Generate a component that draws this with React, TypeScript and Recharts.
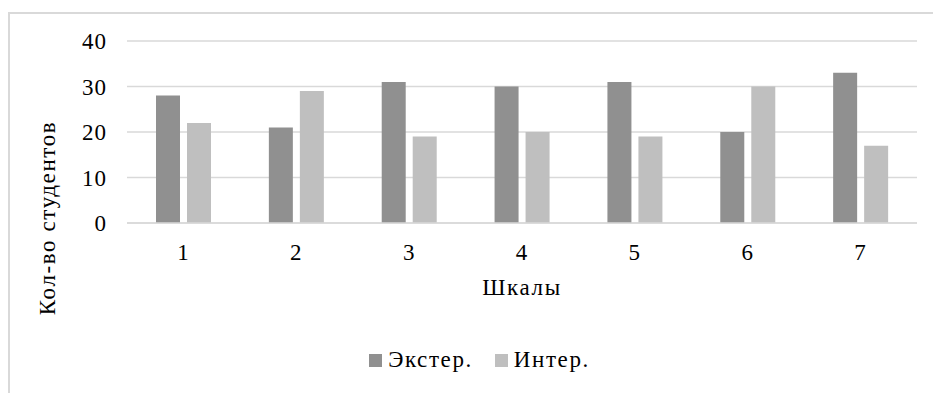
import React from 'react'
import { BarChart, Bar, XAxis, YAxis, CartesianGrid } from 'recharts'

const scales = ['1', '2', '3', '4', '5', '6', '7']
const externalValues = [28, 21, 31, 30, 31, 20, 33]
const internalValues = [22, 29, 19, 20, 19, 30, 17]
const yTicks = [0, 10, 20, 30, 40]

const SERIES = [
  { key: 'ext', name: 'Экстер.', color: '#909090' },
  { key: 'int', name: 'Интер.', color: '#bfbfbf' },
]

const FONT = '"Liberation Serif", "Times New Roman", "DejaVu Serif", serif'
const TEXT = '#000'
const GRID = '#d9d9d9'
const tickStyle = { fontFamily: FONT, fontSize: 23, fill: TEXT, letterSpacing: 1 }
const titleStyle = { ...tickStyle, letterSpacing: 1.6 }

const data = scales.map((s, i) => ({
  scale: s,
  ext: externalValues[i],
  int: internalValues[i],
}))

function LegendBox() {
  return (
    <div
      style={{
        position: 'absolute',
        left: 0,
        top: 346,
        width: 933,
        display: 'flex',
        justifyContent: 'center',
        alignItems: 'center',
        gap: 22,
        paddingLeft: 26,
        boxSizing: 'border-box',
        fontFamily: FONT,
        fontSize: 23,
        letterSpacing: 1.6,
        lineHeight: '28px',
        color: TEXT,
      }}
    >
      {SERIES.map((s) => (
        <div key={s.key} style={{ display: 'flex', alignItems: 'center', gap: 6 }}>
          <span style={{ width: 13, height: 13, background: s.color, display: 'inline-block' }} />
          <span>{s.name}</span>
        </div>
      ))}
    </div>
  )
}

// rotated axis title sits a bit lower than the plot centre
function YTitle() {
  return (
    <text
      x={47}
      y={218}
      transform="rotate(-90 47 218)"
      textAnchor="middle"
      dominantBaseline="central"
      style={titleStyle}
    >
      Кол-во  студентов
    </text>
  )
}

export default function App() {
  return (
    <div style={{ position: 'absolute', left: 0, top: 0, width: 933, height: 393, background: '#fff', overflow: 'hidden', fontFamily: FONT }}>
      <div
        style={{
          position: 'absolute',
          left: 8,
          top: 12,
          width: 940,
          height: 400,
          borderTop: `2px solid ${GRID}`,
          borderLeft: `2px solid ${GRID}`,
        }}
      />
      <BarChart
        width={933}
        height={393}
        data={data}
        margin={{ top: 41, right: 16, bottom: 0, left: 0 }}
        barSize={24}
        barGap={7}
        style={{ position: 'absolute', left: 0, top: 0 }}
      >
        <CartesianGrid vertical={false} stroke={GRID} strokeWidth={1.3} />
        <XAxis
          dataKey="scale"
          height={170}
          axisLine={{ stroke: GRID, strokeWidth: 1.3 }}
          tickLine={false}
          tickSize={0}
          tickMargin={21}
          tick={tickStyle}
          label={{
            value: 'Шкалы',
            position: 'insideTop',
            offset: 56,
            style: titleStyle,
          }}
        />
        <YAxis
          width={127}
          domain={[0, 40]}
          ticks={yTicks}
          axisLine={false}
          tickLine={false}
          tickSize={0}
          tickMargin={20}
          tick={tickStyle}
          label={<YTitle />}
        />
        {SERIES.map((s) => (
          <Bar key={s.key} dataKey={s.key} name={s.name} fill={s.color} isAnimationActive={false} />
        ))}
      </BarChart>
      <LegendBox />
    </div>
  )
}
